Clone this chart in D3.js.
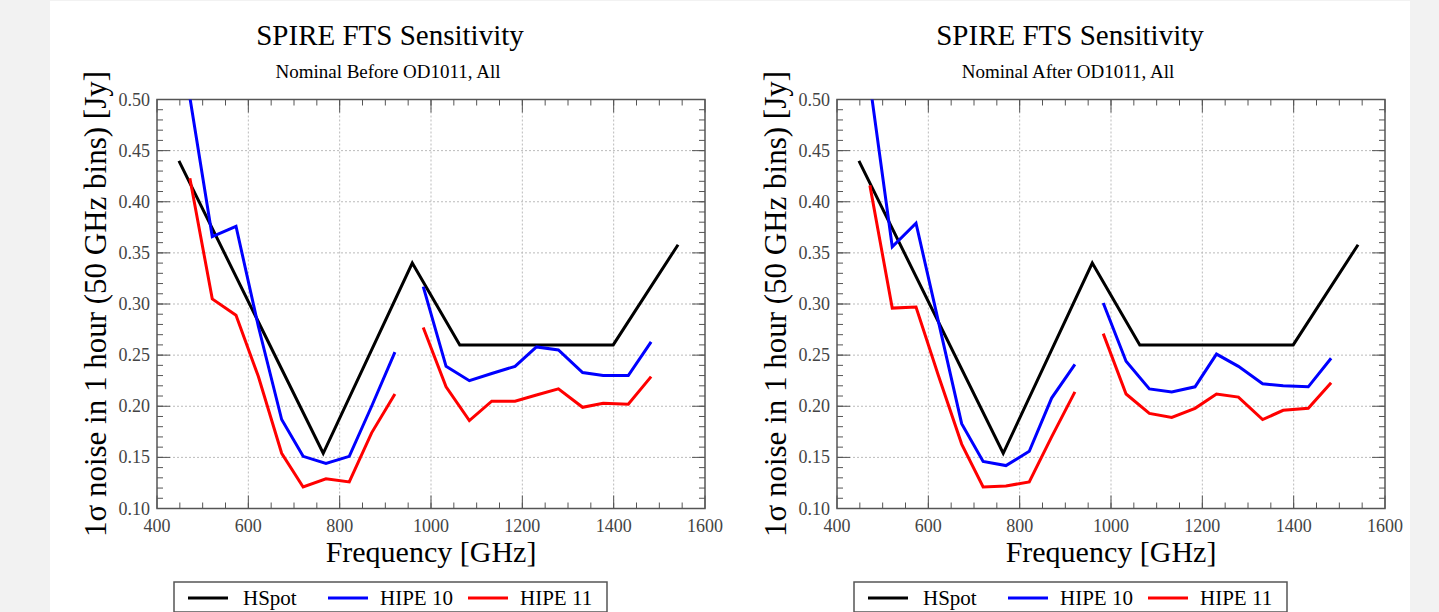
<!DOCTYPE html>
<html>
<head>
<meta charset="utf-8">
<script src="https://cdn.jsdelivr.net/npm/d3@7"></script>
<style>
  body { margin: 0; background: #f2f2f2; }
  svg { display: block; }
</style>
</head>
<body>
<div id="app"></div>
<script>
// frequencies (GHz) of the two FTS bands, and the HSpot model
var freqSLW = [472, 521, 573, 622, 673, 720, 770, 821, 870, 921];
var freqSSW = [983, 1033, 1084, 1133, 1184, 1231, 1279, 1332, 1377, 1432, 1482];
var hspotFreq = [448, 764, 959, 1063, 1399, 1541];
var hspotVal = [0.440, 0.154, 0.340, 0.260, 0.260, 0.358];

// before OD1011
var beforeHipe10SLW = [0.502, 0.366, 0.376, 0.278, 0.187, 0.151, 0.144, 0.151, 0.200, 0.253];
var beforeHipe11SLW = [0.423, 0.305, 0.289, 0.229, 0.154, 0.121, 0.129, 0.126, 0.174, 0.212];
var beforeHipe10SSW = [0.317, 0.239, 0.225, 0.232, 0.239, 0.258, 0.255, 0.233, 0.230, 0.230, 0.263];
var beforeHipe11SSW = [0.277, 0.219, 0.186, 0.205, 0.205, 0.211, 0.217, 0.199, 0.203, 0.202, 0.229];

// after OD1011
var afterHipe10SLW = [0.516, 0.356, 0.379, 0.283, 0.183, 0.146, 0.142, 0.156, 0.208, 0.241];
var afterHipe11SLW = [0.416, 0.296, 0.297, 0.230, 0.163, 0.121, 0.122, 0.126, 0.170, 0.214];
var afterHipe10SSW = [0.301, 0.244, 0.217, 0.214, 0.219, 0.251, 0.239, 0.222, 0.220, 0.219, 0.247];
var afterHipe11SSW = [0.271, 0.212, 0.193, 0.189, 0.198, 0.212, 0.209, 0.187, 0.196, 0.198, 0.223];

var xTicks = [400, 600, 800, 1000, 1200, 1400, 1600];
var yTicks = [0.10, 0.15, 0.20, 0.25, 0.30, 0.35, 0.40, 0.45, 0.50];
var legendNames = ['HSpot', 'HIPE 10', 'HIPE 11'];
var legendColors = ['#000', '#00f', '#f00'];

var font = 'Liberation Serif, Times New Roman, serif';

var svg = d3.select('#app')
  .append('svg')
    .attr('width', 1439)
    .attr('height', 612);

svg.append('rect')
    .attr('x', 50).attr('y', 1)
    .attr('width', 1360).attr('height', 611)
    .attr('fill', '#fff');

var w = 548, h = 409;
var x = d3.scaleLinear().domain([400, 1600]).range([0, w]);
var y = d3.scaleLinear().domain([0.10, 0.50]).range([h, 0]);

function zip(f, v) { return f.map(function(d, i) { return [d, v[i]]; }); }

function panel(left, id, subtitle, series) {
  var g = svg.append('g').attr('transform', 'translate(' + left + ',99.5)');

  g.append('defs').append('clipPath').attr('id', id)
    .append('rect').attr('width', w).attr('height', h);

  // grid
  g.selectAll('.gx').data(xTicks.slice(1, -1)).enter().append('line')
    .attr('x1', x).attr('x2', x).attr('y1', 0).attr('y2', h)
    .attr('stroke', '#bbb').attr('stroke-dasharray', '2,2');
  g.selectAll('.gy').data(yTicks.slice(1, -1)).enter().append('line')
    .attr('y1', y).attr('y2', y).attr('x1', 0).attr('x2', w)
    .attr('stroke', '#bbb').attr('stroke-dasharray', '2,2');

  // ticks on all four sides
  var xMinor = d3.range(450, 1600, 50), yMinor = d3.range(11, 50).map(function(d){ return d / 100; });
  function tickLines(vals, len) {
    g.selectAll(null).data(vals).enter().append('line')
      .attr('x1', x).attr('x2', x).attr('y1', h).attr('y2', h - len).attr('stroke', '#555');
    g.selectAll(null).data(vals).enter().append('line')
      .attr('x1', x).attr('x2', x).attr('y1', 0).attr('y2', len).attr('stroke', '#555');
  }
  function tickLinesY(vals, len) {
    g.selectAll(null).data(vals).enter().append('line')
      .attr('y1', y).attr('y2', y).attr('x1', 0).attr('x2', len).attr('stroke', '#555');
    g.selectAll(null).data(vals).enter().append('line')
      .attr('y1', y).attr('y2', y).attr('x1', w).attr('x2', w - len).attr('stroke', '#555');
  }
  tickLines(xMinor, 6); tickLines(xTicks, 13);
  tickLinesY(yMinor, 6); tickLinesY(yTicks, 13);

  g.append('rect').attr('width', w).attr('height', h)
    .attr('fill', 'none').attr('stroke', '#555').attr('stroke-width', 1.5);

  // tick labels
  g.selectAll(null).data(xTicks).enter().append('text')
    .attr('x', x).attr('y', h + 23)
    .attr('text-anchor', 'middle')
    .attr('font-family', font).attr('font-size', 18).attr('fill', '#444')
    .text(function(d) { return d; });
  g.selectAll(null).data(yTicks).enter().append('text')
    .attr('x', -7).attr('y', function(d) { return y(d) + 6; })
    .attr('text-anchor', 'end')
    .attr('font-family', font).attr('font-size', 18).attr('fill', '#444')
    .text(function(d) { return d.toFixed(2); });

  // lines
  var line = d3.line().x(function(d) { return x(d[0]); }).y(function(d) { return y(d[1]); });
  var lines = g.append('g').attr('clip-path', 'url(#' + id + ')');
  series.forEach(function(s) {
    lines.append('path')
      .attr('d', line(s.pts))
      .attr('fill', 'none').attr('stroke', s.color).attr('stroke-width', 3)
      .attr('stroke-linejoin', 'miter');
  });

  // titles
  g.append('text').attr('x', w / 2 - 41).attr('y', -55).attr('text-anchor', 'middle')
    .attr('font-family', font).attr('font-size', 29).text('SPIRE FTS Sensitivity');
  g.append('text').attr('x', w / 2 - 43).attr('y', -22).attr('text-anchor', 'middle')
    .attr('font-family', font).attr('font-size', 19).text(subtitle);
  g.append('text').attr('x', w / 2).attr('y', h + 53).attr('text-anchor', 'middle')
    .attr('font-family', font).attr('font-size', 30).text('Frequency [GHz]');
  g.append('text')
    .attr('transform', 'translate(-51,' + (h / 2) + ') rotate(-90)')
    .attr('text-anchor', 'middle')
    .attr('font-family', font).attr('font-size', 31)
    .text('1σ noise in 1 hour (50 GHz bins) [Jy]');

  // legend
  var lg = g.append('g').attr('transform', 'translate(17,' + (h + 73.5) + ')');
  lg.append('rect').attr('width', 433).attr('height', 30)
    .attr('fill', '#fff').attr('stroke', '#555').attr('stroke-width', 1.5);
  legendNames.forEach(function(n, i) {
    var ox = 14 + i * 140;
    lg.append('line').attr('x1', ox).attr('x2', ox + 40).attr('y1', 16).attr('y2', 16)
      .attr('stroke', legendColors[i]).attr('stroke-width', 3);
    lg.append('text').attr('x', ox + (i === 0 ? 55 : 52)).attr('y', 23)
      .attr('font-family', font).attr('font-size', 21).text(n);
  });
}

panel(157, 'clipL', 'Nominal Before OD1011, All', [
  { color: '#000', pts: zip(hspotFreq, hspotVal) },
  { color: '#00f', pts: zip(freqSLW, beforeHipe10SLW) },
  { color: '#00f', pts: zip(freqSSW, beforeHipe10SSW) },
  { color: '#f00', pts: zip(freqSLW, beforeHipe11SLW) },
  { color: '#f00', pts: zip(freqSSW, beforeHipe11SSW) }
]);
panel(837, 'clipR', 'Nominal After OD1011, All', [
  { color: '#000', pts: zip(hspotFreq, hspotVal) },
  { color: '#00f', pts: zip(freqSLW, afterHipe10SLW) },
  { color: '#00f', pts: zip(freqSSW, afterHipe10SSW) },
  { color: '#f00', pts: zip(freqSLW, afterHipe11SLW) },
  { color: '#f00', pts: zip(freqSSW, afterHipe11SSW) }
]);
</script>
</body>
</html>
